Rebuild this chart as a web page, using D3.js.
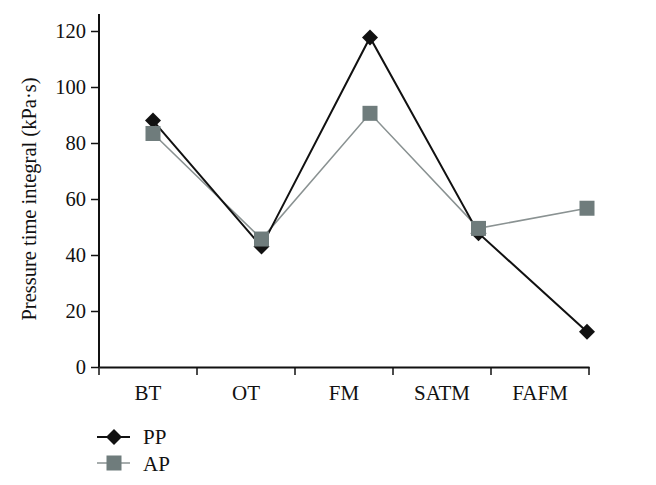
<!DOCTYPE html>
<html>
<head>
<meta charset="utf-8">
<script src="https://cdn.jsdelivr.net/npm/d3@7"></script>
<style>
  body { margin: 0; background: #fff; }
  text { font-family: "Liberation Serif", "DejaVu Serif", serif; fill: #111; }
</style>
</head>
<body>
<script>
var categories = ['BT', 'OT', 'FM', 'SATM', 'FAFM'];
var pp = [88, 43, 117.7, 47.8, 12.6];
var ap = [83.4, 45.7, 90.6, 49.5, 56.7];
var yTicks = [0, 20, 40, 60, 80, 100, 120];

var svg = d3.select('body').append('svg').attr('width', 656).attr('height', 485);

// axis band scale (labels), point scale for the markers
var xBand = d3.scaleBand().domain(categories).range([99, 589]);
var xPt = d3.scalePoint().domain(categories).range([153, 587]);
var y = d3.scaleLinear().domain([0, 120]).range([367, 31]);

// y axis
var yAxis = d3.axisLeft(y).tickValues(yTicks).tickSize(8).tickPadding(5).tickSizeOuter(0);
var gy = svg.append('g').attr('transform', 'translate(99,0)').call(yAxis);
gy.select('.domain').remove();
gy.append('line').attr('x1', 0).attr('x2', 0).attr('y1', 367).attr('y2', 14)
  .attr('stroke', '#111').attr('stroke-width', 2);
gy.selectAll('.tick line').attr('stroke', '#111').attr('stroke-width', 1.5);
gy.selectAll('.tick text').style('font-size', '20.5px').style('font-family', '"Liberation Serif", serif').attr('fill', '#111');

// x axis
var xAxis = d3.axisBottom(xBand).tickSize(0).tickPadding(18);
var gx = svg.append('g').attr('transform', 'translate(0,367)').call(xAxis);
gx.select('.domain').attr('stroke', '#111').attr('stroke-width', 2);
gx.selectAll('.tick text').style('font-size', '21px').style('font-family', '"Liberation Serif", serif').attr('fill', '#111');
var edges = categories.map(function (c) { return xBand(c); }).concat([xBand.range()[1]]);
gx.selectAll('.edge').data(edges).enter().append('line')
  .attr('x1', function (d) { return d; }).attr('x2', function (d) { return d; })
  .attr('y1', 0).attr('y2', 8).attr('stroke', '#111').attr('stroke-width', 1.5);

// y title
svg.append('text').attr('transform', 'translate(36,199) rotate(-90)')
  .attr('text-anchor', 'middle').style('font-size', '20.5px')
  .text('Pressure time integral (kPa·s)');

var line = d3.line().x(function (d, i) { return xPt(categories[i]); }).y(function (d) { return y(d); });

var apColor = '#8a9292', apFill = '#6f7c7c', ppColor = '#111';

svg.append('path').attr('d', line(ap)).attr('fill', 'none').attr('stroke', apColor).attr('stroke-width', 1.6);
svg.append('path').attr('d', line(pp)).attr('fill', 'none').attr('stroke', ppColor).attr('stroke-width', 2);

var diamond = 'M0,-8L8,0L0,8L-8,0Z';
svg.selectAll('.pp').data(pp).enter().append('path')
  .attr('d', diamond)
  .attr('transform', function (d, i) { return 'translate(' + xPt(categories[i]) + ',' + y(d) + ')'; })
  .attr('fill', ppColor);
svg.selectAll('.ap').data(ap).enter().append('rect')
  .attr('x', function (d, i) { return xPt(categories[i]) - 7.5; })
  .attr('y', function (d) { return y(d) - 7.5; })
  .attr('width', 15).attr('height', 15).attr('fill', apFill);

// legend
var lg = svg.append('g');
lg.append('line').attr('x1', 97).attr('x2', 130).attr('y1', 437).attr('y2', 437).attr('stroke', ppColor).attr('stroke-width', 2);
lg.append('path').attr('d', diamond).attr('transform', 'translate(114,437)').attr('fill', ppColor);
lg.append('text').attr('x', 143).attr('y', 444).style('font-size', '21px').text('PP');
lg.append('line').attr('x1', 97).attr('x2', 130).attr('y1', 463).attr('y2', 463).attr('stroke', apColor).attr('stroke-width', 1.6);
lg.append('rect').attr('x', 106.5).attr('y', 455.5).attr('width', 15).attr('height', 15).attr('fill', apFill);
lg.append('text').attr('x', 143).attr('y', 471).style('font-size', '21px').text('AP');
</script>
</body>
</html>
